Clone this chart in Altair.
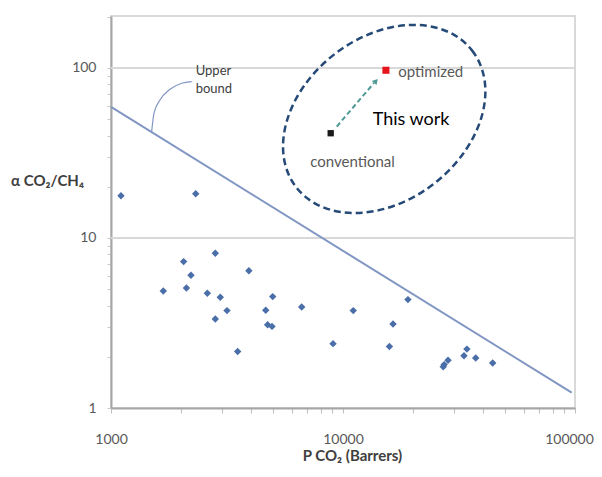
import altair as alt
import pandas as pd

# Literature data (P CO2 in Barrers, alpha CO2/CH4)
lit_p = [1104, 2318, 2816, 2056, 2212, 3929, 1680, 2114, 2602, 2959, 3162, 2816, 3515,
         4645, 4977, 4733, 4943, 6637, 9059, 11070, 16430, 15850, 19050, 27040, 27300,
         28360, 33230, 34200, 37330, 44180]
lit_a = [17.7, 18.2, 8.13, 7.26, 6.03, 6.42, 4.88, 5.08, 4.73, 4.48, 3.74, 3.34, 2.15,
         3.76, 4.52, 3.09, 3.02, 3.93, 2.39, 3.74, 3.12, 2.30, 4.34, 1.75, 1.80,
         1.91, 2.03, 2.22, 1.97, 1.84]

# Upper bound line endpoints
bound_p = [1000, 96800]
bound_a = [59, 1.23]

# This work
conv_p, conv_a = [8850], [41.3]
opt_p, opt_a = [15310], [96.9]

# Arrow conventional -> optimized
arrow_p = [9400, 13600]
arrow_a = [45.2, 81.6]
head_p, head_a = [13870], [83.8]

# Ellipse around "This work"
ell_p, ell_a = [15053], [50.1]

# Callout curve for "Upper bound"
curve_p = [1497, 1532, 1626, 1796, 2017, 2228]
curve_a = [42.2, 54.1, 64.8, 74.9, 81.3, 83.1]

# Gridlines
grid_a = [10, 100]

# Axis ticks
x_ticks = [1000, 2000, 3000, 4000, 5000, 6000, 7000, 8000, 9000,
           10000, 20000, 30000, 40000, 50000, 60000, 70000, 80000, 90000, 100000]
y_ticks = [1, 2, 3, 4, 5, 6, 7, 8, 9, 10, 20, 30, 40, 50, 60, 70, 80, 90, 100, 200]

# Text annotations
labels_txt = ["optimized", "conventional"]
labels_p = [17310, 10990]
labels_a = [94.4, 28.1]
work_txt, work_p, work_a = ["This work"], [13430], [49.4]
ub_txt = ["Upper", "bound"]
ub_p = [2318, 2318]
ub_a = [96, 75.2]

FONT = "Lato"

def X():
    return alt.X("x:Q",
                 scale=alt.Scale(type="log", domain=[1000, 100000], nice=False),
                 axis=alt.Axis(values=x_ticks,
                               labelExpr="(datum.value == 1000 || datum.value == 10000 || datum.value == 100000) ? format(datum.value, 'd') : ''",
                               labelFlush=False, labelOverlap=False, grid=False,
                               labelOffset={"condition": {"test": "datum.value == 100000", "value": -6}, "value": 0},
                               domainColor="#a6a6a6", domainWidth=2,
                               tickColor="#bfbfbf", tickSize=5, tickWidth=1,
                               labelFont=FONT, labelFontSize=14, labelColor="#595959",
                               labelPadding=19,
                               title="P CO₂ (Barrers)", titleFont=FONT, titleFontSize=15,
                               titleFontWeight="bold", titleColor="#404040",
                               titleX=241, titleY=47, titleAlign="center",
                               titleBaseline="middle"))

def Y():
    return alt.Y("y:Q",
                 scale=alt.Scale(type="log", domain=[1, 202], nice=False),
                 axis=alt.Axis(values=y_ticks,
                               labelExpr="(datum.value == 1 || datum.value == 10 || datum.value == 100) ? format(datum.value, 'd') : ''",
                               labelFlush=False, labelOverlap=False, grid=False,
                               domainColor="#a6a6a6", domainWidth=2,
                               tickColor="#c8c8c8", tickSize=4, tickWidth=1,
                               labelFont=FONT, labelFontSize=14, labelColor="#595959",
                               labelPadding=11,
                               title="α CO₂/CH₄", titleFont=FONT, titleFontSize=15,
                               titleFontWeight="bold", titleColor="#404040",
                               titleAngle=0, titleX=-64, titleY=164,
                               titleAlign="center", titleBaseline="middle"))

def df(xs, ys, **extra):
    d = {"x": xs, "y": ys}
    d.update(extra)
    return pd.DataFrame(d)

grid = alt.Chart(pd.DataFrame({"y": grid_a})).mark_rule(
    color="#d9d9d9", strokeWidth=2).encode(y=Y())

bound = alt.Chart(df(bound_p, bound_a)).mark_line(
    color="#8196c3", strokeWidth=2).encode(x=X(), y=Y())

curve = alt.Chart(df(curve_p, curve_a)).mark_line(
    color="#8196c3", strokeWidth=1.2, interpolate="monotone").encode(x=X(), y=Y())

pts = alt.Chart(df(lit_p, lit_a)).mark_point(
    shape="diamond", filled=True, size=55, color="#4a6ea8", opacity=1).encode(x=X(), y=Y())

ell_path = ("M 1 0 C 1 0.405 0.552 0.733 0 0.733 C -0.552 0.733 -1 0.405 -1 0 "
            "C -1 -0.405 -0.552 -0.733 0 -0.733 C 0.552 -0.733 1 -0.405 1 0 Z")
ellipse = alt.Chart(df(ell_p, ell_a)).mark_point(
    shape=ell_path, size=49640, angle=322, filled=False, stroke="#264a78",
    strokeWidth=2.5, strokeDash=[7, 4], opacity=1).encode(x=X(), y=Y())

arrow = alt.Chart(df(arrow_p, arrow_a)).mark_line(
    color="#4f9a96", strokeWidth=2, strokeDash=[5, 3]).encode(x=X(), y=Y())

head = alt.Chart(df(head_p, head_a)).mark_point(
    shape="triangle-up", filled=True, size=40, angle=41, color="#4f9a96",
    opacity=1).encode(x=X(), y=Y())

conv = alt.Chart(df(conv_p, conv_a)).mark_square(
    size=40, color="#1a1a1a", opacity=1).encode(x=X(), y=Y())
opt = alt.Chart(df(opt_p, opt_a)).mark_square(
    size=50, color="#e8141c", opacity=1).encode(x=X(), y=Y())

t_opt = alt.Chart(df(labels_p[:1], labels_a[:1], t=labels_txt[:1])).mark_text(
    font=FONT, fontSize=15, color="#595959", align="left", baseline="middle").encode(
    x=X(), y=Y(), text="t:N")
t_conv = alt.Chart(df(labels_p[1:], labels_a[1:], t=labels_txt[1:])).mark_text(
    font=FONT, fontSize=15, color="#595959", align="center", baseline="middle").encode(
    x=X(), y=Y(), text="t:N")
t_work = alt.Chart(df(work_p, work_a, t=work_txt)).mark_text(
    font=FONT, fontSize=18, color="#000000", align="left", baseline="middle").encode(
    x=X(), y=Y(), text="t:N")
t_ub = alt.Chart(df(ub_p, ub_a, t=ub_txt)).mark_text(
    font=FONT, fontSize=13, color="#404040", align="left", baseline="middle").encode(
    x=X(), y=Y(), text="t:N")

chart = alt.layer(grid, bound, curve, pts, ellipse, arrow, head, conv, opt,
                  t_opt, t_conv, t_work, t_ub).properties(
    width=464, height=392,
    padding={"left": 103, "top": 8, "right": 19, "bottom": 57},
    autosize=alt.AutoSizeParams(type="none"),
).configure_view(stroke="#d9d9d9", strokeWidth=2)

chart.save("out.html", embed_options={"renderer": "svg", "actions": False})
